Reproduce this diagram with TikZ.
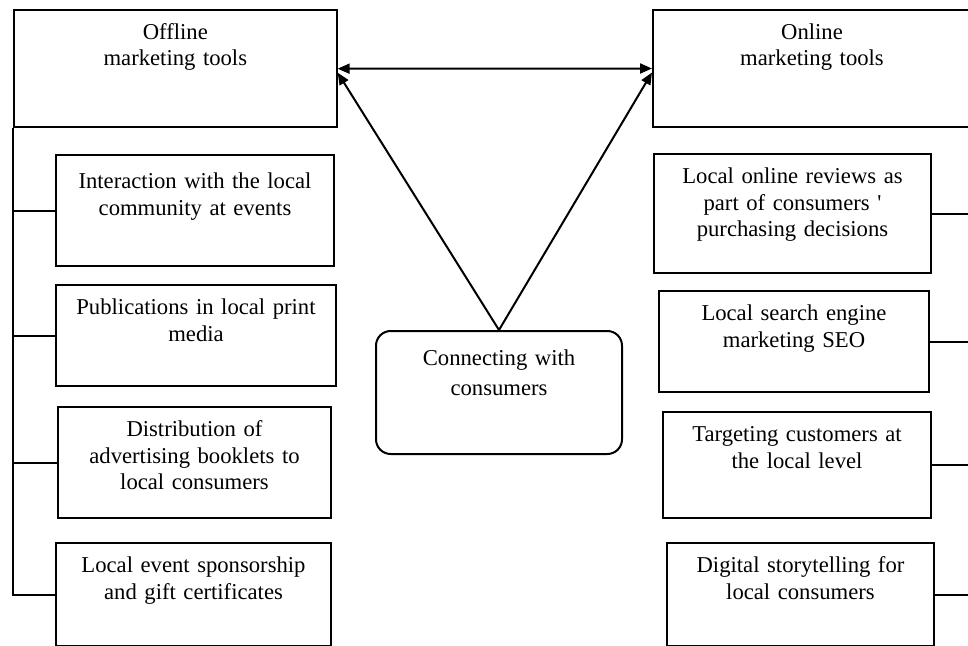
\documentclass[tikz,border=0pt]{standalone}
\usepackage{fontspec}
\setmainfont{Liberation Serif}
\usetikzlibrary{arrows.meta}

\begin{document}
\begin{tikzpicture}[x=0.75pt, y=-0.75pt, line width=1.5pt, >={Triangle[length=9pt, width=7.5pt]}]
            \tikzstyle{tool} = [draw, rectangle, anchor=north west, align=center, inner xsep=0pt, inner ysep=0pt, text height=22pt, font=\fontsize{17}{20}\selectfont]
            \tikzstyle{hub} = [tool, rounded corners=11pt, text height=26pt, font=\fontsize{17}{22.5}\selectfont]
            \useasboundingbox (0,0) rectangle (968,646);

            \node [tool, text width=242pt, text depth=66pt] (Off) at (13,9) {Offline\\marketing tools};
            \node [tool, text width=238.5pt, text depth=65.75pt] (On) at (652,9) {Online\\marketing tools};

            \node [tool, text width=208.5pt, text height=25pt, text depth=58.25pt] (L1) at (55,154) {Interaction with the local\\community at events};
            \node [tool, text width=210pt, text depth=53.75pt] (L2) at (55,284) {Publications in local print\\media};
            \node [tool, text width=204.75pt, text depth=61.25pt] (L3) at (57,406) {Distribution of\\advertising booklets to\\local consumers};
            \node [tool, text width=206.25pt, text depth=55.25pt] (L4) at (55,542) {Local event sponsorship\\and gift certificates};

            \node [tool, text width=207.75pt, text depth=67.25pt] (R1) at (653,153) {Local online reviews as\\part of consumers \textquotesingle\\purchasing decisions};
            \node [tool, text width=202.5pt, text depth=53.75pt] (R2) at (658,290) {Local search engine\\marketing SEO};
            \node [tool, text width=201pt, text depth=57.5pt] (R3) at (662,411) {Targeting customers at\\the local level};
            \node [tool, text width=200.25pt, text depth=55.25pt] (R4) at (666,542) {Digital storytelling for\\local consumers};

            \node [hub, text width=184.5pt, text depth=66.25pt] (Con) at (375,330) {Connecting with\\consumers};

            \draw [<->] (Off.east) -- (On.west);
            \draw [->] (Con.north) -- ([yshift=-3pt]Off.east);
            \draw [->] (Con.north) -- ([yshift=-3pt]On.west);

            \draw (Off.south west) |- (L4.west);
            \foreach \i in {1,2,3}
                \draw (Off.south west |- L\i.west) -- (L\i.west);
            \draw (On.south east) |- (R4.east);
            \foreach \i in {1,2,3}
                \draw (On.south east |- R\i.east) -- (R\i.east);
        \end{tikzpicture}
\end{document}
